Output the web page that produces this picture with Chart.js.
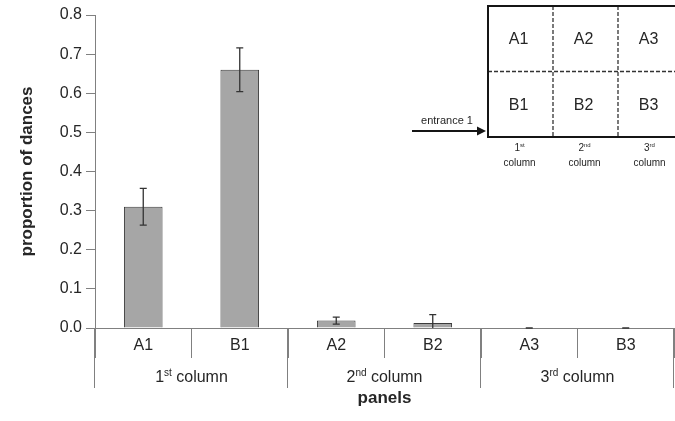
<!DOCTYPE html>
<html lang="en">
<head>
  <meta charset="UTF-8">
  <title>Proportion of dances per panel</title>
  <script src="https://cdn.jsdelivr.net/npm/chart.js"></script>
  <style>
    html, body { margin:0; padding:0; background:#fff; }
    .wrap { width:675px; height:421px; position:relative; }
  </style>
</head>
<body>
  <div class="wrap"><canvas id="danceChart" width="675" height="421"></canvas></div>
<script>
// panels in the order they sit on the x axis
const panels = ["A1","B1","A2","B2","A3","B3"];
// panel columns, two panels each
const columnNums = ["1","2","3"];
const columnSuffix = ["st","nd","rd"];
// mean proportion of dances and its error (SE)
const proportion = [0.31, 0.66, 0.019, 0.013, 0, 0];
const errors = [0.047, 0.056, 0.009, 0.021, 0, 0];
const yTicks = [0, 0.1, 0.2, 0.3, 0.4, 0.5, 0.6, 0.7, 0.8];
// schematic of the hive panels
const insetRows = [["A1","A2","A3"],["B1","B2","B3"]];

const FONT = "'Liberation Sans', Arial, sans-serif";
const TXT = '#262626';
const AXIS = '#808080';

function ordinal(ctx, num, suf, cx, cy, size, rest) {
  // number + raised suffix + optional trailing text, centred on cx
  ctx.font = size + 'px ' + FONT;
  const wn = ctx.measureText(num).width;
  const wr = rest ? ctx.measureText(rest).width : 0;
  ctx.font = Math.round(size*0.62) + 'px ' + FONT;
  const ws = ctx.measureText(suf).width;
  let x = cx - (wn + ws + wr)/2;
  ctx.textAlign = 'left';
  ctx.textBaseline = 'middle';
  ctx.font = size + 'px ' + FONT;
  ctx.fillText(num, x, cy);
  ctx.font = Math.round(size*0.62) + 'px ' + FONT;
  ctx.fillText(suf, x + wn, cy - size*0.3);
  if (rest) {
    ctx.font = size + 'px ' + FONT;
    ctx.fillText(rest, x + wn + ws, cy);
  }
}

const overlay = {
  id: 'overlay',
  afterDatasetsDraw(chart) {
    const {ctx, scales:{x, y}} = chart;
    ctx.save();
    ctx.strokeStyle = '#333';
    ctx.lineWidth = 1.3;
    proportion.forEach((v,i)=>{
      const px = x.getPixelForValue(i);
      const top = y.getPixelForValue(v + errors[i]);
      const low = Math.max(v - errors[i], 0);
      const bot = y.getPixelForValue(low);
      ctx.beginPath();
      ctx.moveTo(px, top); ctx.lineTo(px, bot);
      ctx.moveTo(px-3.5, top); ctx.lineTo(px+3.5, top);
      if (v - errors[i] >= 0) { ctx.moveTo(px-3.5, bot); ctx.lineTo(px+3.5, bot); }
      ctx.stroke();
    });
    ctx.restore();
  },
  afterDraw(chart) {
    const {ctx, chartArea, scales:{x}} = chart;
    const cw = (x.right - x.left) / panels.length;
    ctx.save();
    // column brackets under the panel labels
    ctx.strokeStyle = AXIS;
    ctx.lineWidth = 1;
    for (let g = 0; g <= columnNums.length; g++) {
      const gx = Math.round(x.left + g*2*cw) - 0.5;
      ctx.beginPath();
      ctx.moveTo(gx, chartArea.bottom); ctx.lineTo(gx, 388);
      ctx.stroke();
    }
    ctx.fillStyle = TXT;
    columnNums.forEach((n,g)=>{
      ordinal(ctx, n, columnSuffix[g], x.left + (g*2+1)*cw, 378, 16, ' column');
    });

    // inset: 2 x 3 panel layout
    const bx = 488, by = 6, w = 65, h = 65.5;
    ctx.strokeStyle = '#333';
    ctx.lineWidth = 1.3;
    ctx.setLineDash([4,2]);
    ctx.beginPath();
    ctx.moveTo(bx, by+h); ctx.lineTo(bx+3*w, by+h);
    ctx.moveTo(bx+w, by); ctx.lineTo(bx+w, by+2*h);
    ctx.moveTo(bx+2*w, by); ctx.lineTo(bx+2*w, by+2*h);
    ctx.stroke();
    ctx.setLineDash([]);
    ctx.strokeStyle = '#151515';
    ctx.lineWidth = 2;
    ctx.strokeRect(bx, by, 3*w, 2*h);

    ctx.fillStyle = TXT;
    ctx.font = '16px ' + FONT;
    ctx.textAlign = 'center';
    ctx.textBaseline = 'middle';
    insetRows.forEach((row,r)=>{
      row.forEach((lab,c)=>{
        ctx.fillText(lab, bx + c*w + w/2 - 2, by + r*h + h/2 + 1);
      });
    });
    columnNums.forEach((n,c)=>{
      const cx = bx + c*w + w/2 - 1;
      ordinal(ctx, n, columnSuffix[c], cx, 148, 10, '');
      ctx.font = '10px ' + FONT;
      ctx.textAlign = 'center';
      ctx.fillText('column', cx, 163);
    });

    // entrance arrow
    ctx.font = '11px ' + FONT;
    ctx.textAlign = 'center';
    ctx.fillText('entrance 1', 447, 121);
    ctx.strokeStyle = '#151515';
    ctx.lineWidth = 2;
    ctx.beginPath();
    ctx.moveTo(412, 131); ctx.lineTo(479, 131);
    ctx.stroke();
    ctx.fillStyle = '#151515';
    ctx.beginPath();
    ctx.moveTo(486, 131); ctx.lineTo(477, 126.5); ctx.lineTo(477, 135.5);
    ctx.closePath();
    ctx.fill();
    ctx.restore();
  }
};

new Chart(document.getElementById('danceChart'), {
  type: 'bar',
  data: {
    labels: panels,
    datasets: [{
      data: proportion,
      backgroundColor: '#a6a6a6',
      borderColor: '#3c3c3c',
      borderWidth: 1,
      categoryPercentage: 1,
      barPercentage: 0.4
    }]
  },
  options: {
    responsive: false,
    animation: false,
    layout: { padding: { top: 15, right: 1, left: 0, bottom: 0 } },
    plugins: { legend: { display: false }, tooltip: { enabled: false } },
    scales: {
      x: {
        grid: { offset: true, drawOnChartArea: false, tickLength: 30, color: AXIS },
        border: { color: AXIS },
        ticks: { color: TXT, font: { family: FONT, size: 16 }, padding: -22, maxRotation: 0 },
        title: { display: true, text: 'panels', color: TXT,
                 font: { family: FONT, size: 17, weight: 'bold' }, padding: { top: 0, bottom: 12 } },
        afterFit(scale) { scale.height = 93; }
      },
      y: {
        min: 0, max: 0.8,
        afterBuildTicks(scale) { scale.ticks = yTicks.map(v => ({ value: v })); },
        grid: { drawOnChartArea: false, tickLength: 9, color: AXIS },
        border: { color: AXIS },
        ticks: { color: TXT, font: { family: FONT, size: 16 }, padding: 4,
                 callback: v => Number(v).toFixed(1) },
        title: { display: true, text: 'proportion of dances', color: TXT,
                 font: { family: FONT, size: 17, weight: 'bold' }, padding: { top: 17, bottom: 0 } },
        afterFit(scale) { scale.width = 95; }
      }
    }
  },
  plugins: [overlay]
});
</script>
</body>
</html>
